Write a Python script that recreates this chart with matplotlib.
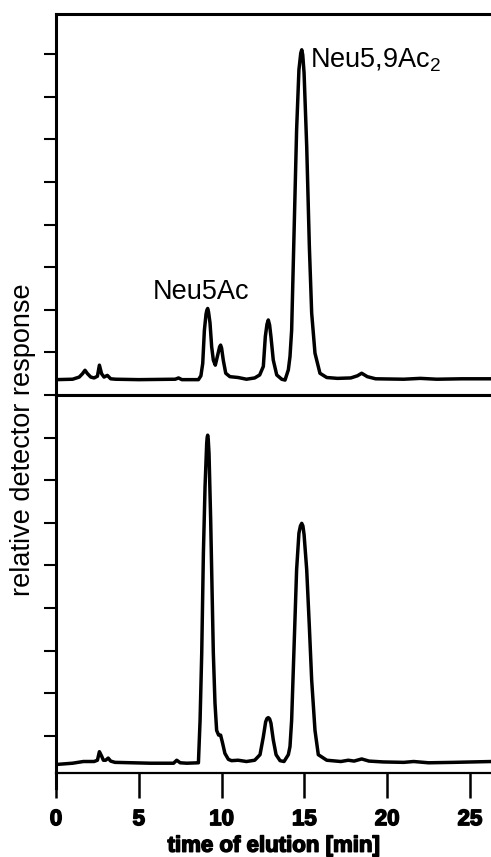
import matplotlib as mpl
mpl.use('Agg')
import matplotlib.pyplot as plt
import matplotlib.patheffects as pe

plt.rcParams['font.family'] = ['Liberation Sans', 'DejaVu Sans']
plt.rcParams['mathtext.default'] = 'regular'

# upper trace (time in min, detector response in tick units)
top_t = [0.0, 1.0, 1.4, 1.6, 1.75, 1.9, 2.1, 2.3, 2.5, 2.62, 2.75, 2.9, 3.1, 3.3, 3.6,
         5.0, 7.2, 7.4, 7.6, 8.6, 8.75, 8.86, 8.96, 9.06, 9.11, 9.16, 9.21, 9.3, 9.4,
         9.5, 9.62, 9.76, 9.88, 9.94, 10.0, 10.1, 10.25, 10.5, 11.0, 11.5, 12.0, 12.3,
         12.52, 12.64, 12.74, 12.82, 12.9, 12.98, 13.12, 13.33, 13.63, 13.83, 14.03,
         14.13, 14.23, 14.33, 14.43, 14.53, 14.67, 14.78, 14.84, 14.9, 14.98, 15.14,
         15.3, 15.44, 15.64, 15.94, 16.35, 17.0, 17.8, 18.2, 18.46, 18.8, 19.3, 21.0,
         22.0, 23.0, 24.5, 26.3]
top_v = [0.36, 0.37, 0.42, 0.50, 0.58, 0.50, 0.42, 0.40, 0.44, 0.70, 0.50, 0.42, 0.46,
         0.38, 0.37, 0.36, 0.37, 0.40, 0.36, 0.36, 0.45, 0.74, 1.52, 1.90, 1.99, 2.03,
         1.95, 1.69, 1.13, 0.82, 0.70, 0.93, 1.13, 1.17, 1.10, 0.82, 0.51, 0.43, 0.41,
         0.37, 0.40, 0.47, 0.67, 1.37, 1.66, 1.76, 1.64, 1.37, 0.82, 0.47, 0.37, 0.35,
         0.59, 0.90, 1.52, 3.09, 4.66, 6.22, 7.63, 8.02, 8.10, 7.98, 7.56, 5.83, 3.48,
         1.92, 0.98, 0.51, 0.41, 0.39, 0.40, 0.45, 0.51, 0.43, 0.38, 0.37, 0.39, 0.37,
         0.38, 0.38]

# lower trace
bot_t = [0.0, 1.0, 1.65, 2.3, 2.5, 2.62, 2.75, 2.86, 3.0, 3.15, 3.3, 3.56, 5.7, 7.1,
         7.29, 7.5, 7.9, 8.6, 8.7, 8.8, 8.9, 9.0, 9.1, 9.13, 9.16, 9.19, 9.24, 9.34,
         9.42, 9.5, 9.6, 9.7, 9.82, 9.94, 10.06, 10.2, 10.41, 10.6, 11.0, 11.5, 12.0,
         12.32, 12.52, 12.66, 12.74, 12.82, 12.9, 12.98, 13.12, 13.29, 13.53, 13.77,
         14.03, 14.13, 14.23, 14.33, 14.43, 14.53, 14.67, 14.76, 14.84, 14.91, 14.98,
         15.14, 15.3, 15.44, 15.64, 15.84, 16.35, 17.2, 17.65, 18.0, 18.46, 18.9, 19.76,
         21.0, 21.6, 22.5, 24.0, 26.3]
bot_v = [0.20, 0.23, 0.27, 0.27, 0.30, 0.50, 0.40, 0.30, 0.30, 0.35, 0.28, 0.25, 0.23,
         0.23, 0.30, 0.24, 0.23, 0.24, 1.24, 2.82, 5.16, 6.72, 7.74, 7.88, 7.93, 7.85,
         7.50, 5.94, 4.37, 2.82, 1.64, 1.00, 0.89, 0.89, 0.70, 0.46, 0.32, 0.29, 0.30,
         0.27, 0.30, 0.43, 0.85, 1.20, 1.28, 1.30, 1.27, 1.17, 0.78, 0.43, 0.29, 0.27,
         0.43, 0.62, 1.24, 2.42, 3.59, 4.77, 5.63, 5.80, 5.86, 5.80, 5.60, 4.77, 3.43,
         2.18, 1.00, 0.43, 0.30, 0.27, 0.30, 0.28, 0.33, 0.28, 0.26, 0.25, 0.27, 0.24,
         0.25, 0.27]

x_ticks = [0, 5, 10, 15, 20, 25]

fig = plt.figure(figsize=(4.91, 8.57), dpi=100)
ax1 = fig.add_axes([0.1141, 0.5391, 0.8859, 0.4446])
ax2 = fig.add_axes([0.1141, 0.0980, 0.8859, 0.4411])

ax1.plot(top_t, top_v, 'black', linewidth=2.5, solid_joinstyle='round')
ax2.plot(bot_t, bot_v, 'black', linewidth=2.5, solid_joinstyle='round')

for ax in (ax1, ax2):
    ax.set_xlim(0, 26.27)
    ax.spines['right'].set_visible(False)
    for s in ('left', 'top'):
        ax.spines[s].set_linewidth(2.2)
    ax.tick_params(axis='y', direction='out', length=8.6, width=1.5, labelleft=False)

ax1.set_ylim(0, 8.94)
ax1.set_yticks(range(0, 9))
ax1.spines['bottom'].set_linewidth(2.2)
ax1.tick_params(axis='x', bottom=False, labelbottom=False)

ax2.set_ylim(0, 8.873)
ax2.set_yticks([0.873 + k for k in range(8)])
ax2.spines['bottom'].set_linewidth(1.6)
ax2.spines['left'].set_bounds(-0.35, 8.873)
ax2.set_xticks(x_ticks)
ax2.tick_params(axis='x', direction='out', length=18, width=1.8, pad=8,
                labelsize=16)
heavy = [pe.withStroke(linewidth=1.1, foreground='black')]
for lab in ax2.get_xticklabels():
    lab.set_fontweight('bold')
    lab.set_path_effects(heavy)
xl = ax2.set_xlabel('time of elution [min]', fontsize=16, fontweight='bold', labelpad=4)
xl.set_path_effects(heavy)

ax1.text(5.86, 2.25, 'Neu5Ac', fontsize=19.5, ha='left', va='baseline')
ax1.text(15.34, 7.68, r'Neu5,9Ac$_2$', fontsize=19.5, ha='left', va='baseline')

fig.text(0.047, 1 - 440 / 857, 'relative detector response', rotation=90,
         fontsize=19.5, ha='center', va='center')

fig.savefig('out.png', dpi=100)
